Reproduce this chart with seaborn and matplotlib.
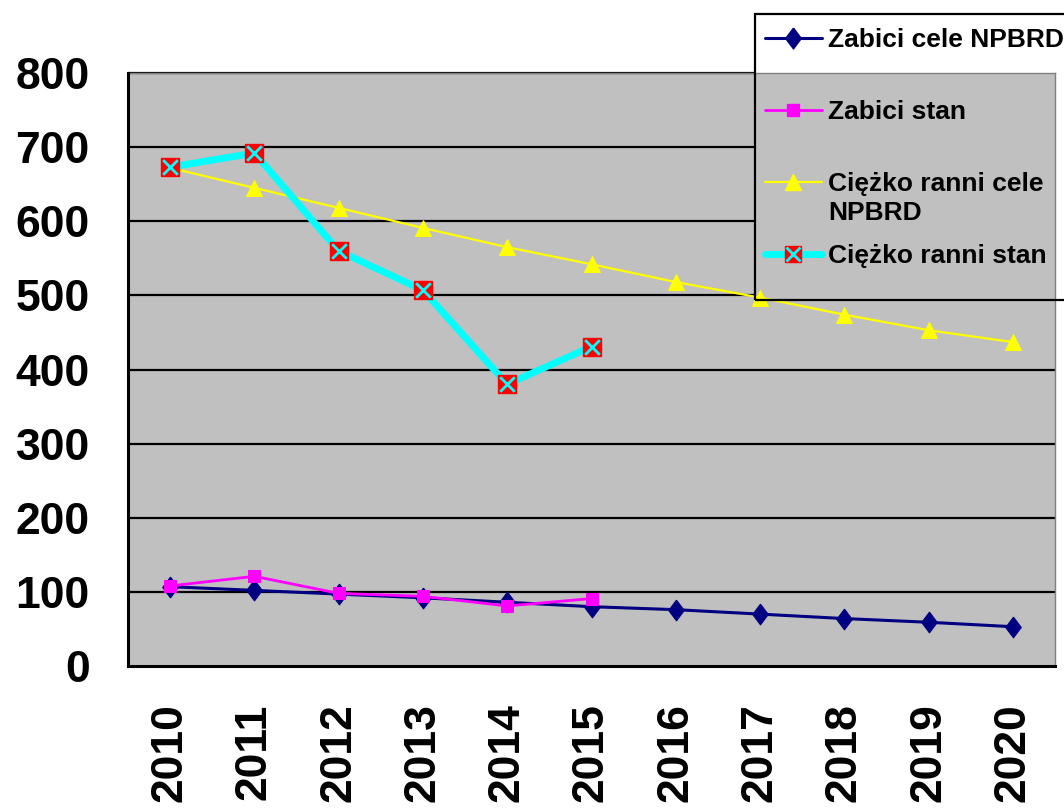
import numpy as np
import pandas as pd
import matplotlib
matplotlib.use("Agg")
import matplotlib.pyplot as plt
import seaborn as sns
from matplotlib.lines import Line2D
from matplotlib.patches import Rectangle

years = ["2010", "2011", "2012", "2013", "2014", "2015", "2016", "2017", "2018", "2019", "2020"]
zabici_cele = [107, 102, 97, 92, 86, 80, 76, 70, 64, 59, 53]
zabici_stan = [108, 121, 98, 94, 81, 91]
ranni_cele = [672, 645, 618, 591, 565, 542, 518, 497, 474, 453, 437]
ranni_stan = [673, 692, 560, 507, 380, 431]
labels = ["Zabici cele NPBRD", "Zabici stan", "Ciężko ranni cele", "Ciężko ranni stan"]
label_wrap = "NPBRD"
yticks = [0, 100, 200, 300, 400, 500, 600, 700, 800]

sns.set_style("white")
plt.rcParams['font.family'] = ['Liberation Sans', 'DejaVu Sans']
plt.rcParams['font.weight'] = 'bold'
plt.rcParams['text.color'] = 'black'
plt.rcParams['xtick.color'] = 'black'
plt.rcParams['ytick.color'] = 'black'

W, H = 1064, 808
fig = plt.figure(figsize=(W/100, H/100), dpi=100)
ax = fig.add_axes([128/W, 1-666/H, 927/W, 593/H])
ax.set_facecolor('#c0c0c0')

x_all = np.arange(len(years))
x_part = np.arange(len(zabici_stan))

# gridlines (hidden behind the legend region)
leg_left_data = (755-128)/(927/11) - 0.5
for v in yticks[1:]:
    xmax = leg_left_data if v >= 500 else 10.5
    ax.hlines(v, -0.5, xmax, color='black', lw=1.6, zorder=1, clip_on=False)

diamond = [(0, 1), (0.75, 0), (0, -1), (-0.75, 0), (0, 1)]

sns.lineplot(x=x_all, y=zabici_cele, ax=ax, color='#000080', lw=2.2,
             marker=diamond, markersize=15, markeredgecolor='#000080', zorder=3)
sns.lineplot(x=x_part, y=zabici_stan, ax=ax, color='#ff00ff', lw=2.0,
             marker='s', markersize=9, markeredgecolor='#ff00ff', zorder=4)
sns.lineplot(x=x_all, y=ranni_cele, ax=ax, color='#ffff00', lw=1.6,
             marker='^', markersize=12, markeredgecolor='#ffff00', zorder=3)
sns.lineplot(x=x_part, y=ranni_stan, ax=ax, color='#00ffff', lw=5, zorder=4)
sns.scatterplot(x=x_part, y=ranni_stan, ax=ax, marker='s', s=150, color='#ff0000',
                edgecolor='#ff0000', zorder=5)
sns.scatterplot(x=x_part, y=ranni_stan, ax=ax, marker='x', s=110, color='#00ffff',
                linewidth=2, zorder=6)

ax.set_xlim(-0.5, 10.5)
ax.set_ylim(0, 800)
ax.set_yticks(yticks)
ax.set_yticklabels([str(v) for v in yticks], fontsize=32, fontweight='bold', color='black')
ax.set_xticks(np.arange(-0.5, 11, 1))
ax.set_xticklabels([])
ax.set_xticks(x_all, minor=True)
ax.set_xticklabels(years, minor=True, rotation=90, fontsize=32, fontweight='bold', color='black')
ax.tick_params(axis='x', which='major', direction='out', length=12, width=1.5, color='black')
ax.tick_params(axis='x', which='minor', length=0, pad=27)
ax.tick_params(axis='y', direction='out', length=11.5, width=1.5, color='black', pad=16)

for s in ['left', 'bottom']:
    ax.spines[s].set_color('black')
    ax.spines[s].set_linewidth(2.2)
    ax.spines[s].set_zorder(7)
for s in ['top', 'right']:
    ax.spines[s].set_color('#808080')
    ax.spines[s].set_linewidth(1.0)
ax.set_xlabel('')
ax.set_ylabel('')

handles = [
    Line2D([], [], color='#000080', lw=2.2, marker=diamond, markersize=15, markeredgecolor='#000080'),
    Line2D([], [], color='#ff00ff', lw=2.0, marker='s', markersize=9, markeredgecolor='#ff00ff'),
    Line2D([], [], color='#ffff00', lw=1.6, marker='^', markersize=12, markeredgecolor='#ffff00'),
    (Line2D([], [], color='#00ffff', lw=5, marker='s', markersize=12,
            markerfacecolor='#ff0000', markeredgecolor='#ff0000'),
     Line2D([], [], color='#00ffff', lw=0, marker='x', markersize=10, markeredgewidth=2)),
]
leg = fig.legend(handles, labels, loc='upper left', bbox_to_anchor=(755/W, 1-18/H),
                 bbox_transform=fig.transFigure, frameon=False,
                 prop={'size': 19, 'weight': 'bold'}, handlelength=2.15,
                 handletextpad=0.25, borderpad=0.38, labelspacing=1.82, borderaxespad=0)
for t in leg.get_texts():
    t.set_color('black')

# legend frame (Excel-style box, transparent)
fig.add_artist(Rectangle((755/W, 1-300/H), (1075-755)/W, (300-14)/H,
                         transform=fig.transFigure, fill=False, ec='black', lw=1.6,
                         clip_on=False, zorder=10))

# wrapped second line of third legend label
fig.canvas.draw()
bb = leg.get_texts()[2].get_window_extent()
fig.text(bb.x0/W, (bb.y0 - 29)/H, label_wrap, fontsize=19, fontweight='bold',
         color='black', ha='left', va='bottom')

fig.savefig('out.png', dpi=100)
